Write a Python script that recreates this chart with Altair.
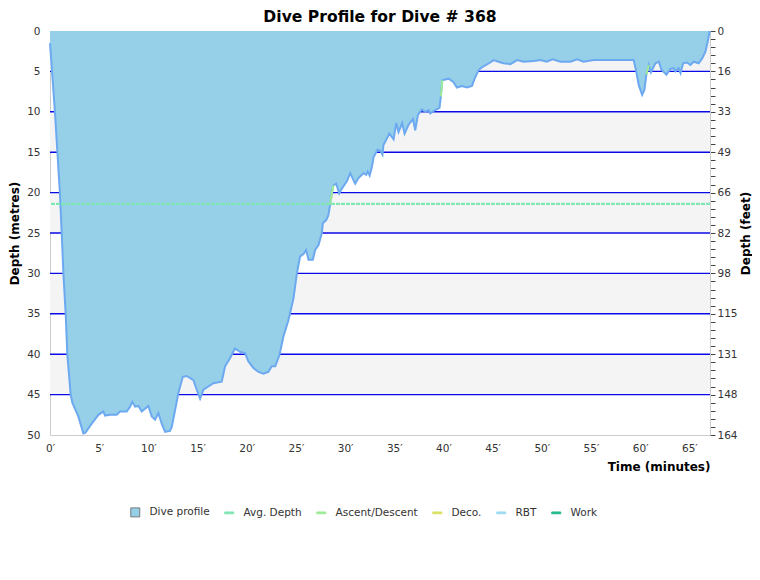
import altair as alt
import pandas as pd

# dive profile: elapsed time (minutes) and depth (metres)
TIME = [0, 0.5, 1.0, 1.19, 1.36, 1.6, 1.76, 2.1, 2.27, 2.88, 3.39, 3.6, 4.24, 4.92, 5.42, 5.6,
        6.1, 6.78, 7.12, 7.8, 8.14, 8.37, 8.65, 8.99, 9.33, 10.0, 10.34, 10.68, 11.02, 11.36,
        11.7, 12.2, 12.38, 12.72, 13.05, 13.5, 13.9, 14.58, 14.92, 15.26, 15.6, 16.1, 16.6,
        17.46, 17.8, 18.3, 18.8, 19.33, 19.84, 20.17, 20.68, 21.19, 21.7, 22.2, 22.55, 22.9,
        23.33, 23.73, 24.24, 24.75, 25.1, 25.43, 25.77, 26.04, 26.28, 26.72, 26.96, 27.3,
        27.64, 27.74, 28.08, 28.3, 28.48, 28.65, 28.82, 29.1, 29.4, 29.67, 30.18, 30.52,
        31.03, 31.36, 31.87, 32.15, 32.3, 32.5, 32.73, 32.9, 33.3, 33.57, 33.8, 33.9, 34.25,
        34.5, 34.93, 35.2, 35.43, 35.67, 35.8, 36.05, 36.45, 36.9, 37.13, 37.4, 37.8, 38.15,
        38.5, 38.66, 39.0, 39.6, 39.74, 39.88, 40.52, 41.0, 41.37, 41.88, 42.4, 42.9, 43.2,
        43.6, 43.9, 44.76, 45.1, 45.6, 46.1, 46.8, 47.5, 48.15, 49.2, 49.85, 50.5, 51.1, 51.9,
        52.9, 53.6, 54.25, 55.27, 56.63, 57.65, 58.7, 59.34, 59.6, 59.86, 60.2, 60.43, 60.63,
        60.87, 61.1, 61.55, 61.9, 62.16, 62.67, 63.07, 63.4, 63.58, 63.9, 64.1, 64.37, 64.77,
        65.1, 65.45, 65.95, 66.3, 66.63, 66.87, 67.07]
DEPTH = [1.5, 10.0, 19.9, 25.0, 30.0, 35.1, 40.0, 45.0, 46.0, 47.7, 49.8, 49.7, 48.6, 47.5,
         47.1, 47.6, 47.5, 47.5, 47.1, 47.1, 46.5, 45.9, 46.5, 46.4, 47.1, 46.4, 47.7, 48.1,
         47.3, 48.6, 49.6, 49.5, 49.0, 46.9, 44.8, 42.8, 42.7, 43.2, 44.4, 45.5, 44.4, 44.0,
         43.6, 43.4, 41.5, 40.5, 39.3, 39.7, 39.9, 40.9, 41.7, 42.2, 42.4, 42.2, 41.5, 41.5,
         40.1, 37.8, 35.8, 33.1, 30.0, 27.9, 27.6, 27.1, 28.3, 28.3, 27.1, 26.5, 25.0, 23.8,
         23.4, 22.8, 21.5, 20.1, 19.1, 18.9, 20.1, 19.5, 18.6, 17.6, 18.9, 18.2, 17.6, 17.8,
         17.4, 17.9, 16.8, 15.6, 14.7, 14.8, 15.3, 14.1, 13.3, 12.7, 13.4, 11.4, 12.5, 11.8,
         11.4, 12.7, 11.6, 10.9, 12.3, 10.4, 9.7, 10.0, 9.8, 10.2, 9.9, 9.5, 8.1, 6.1, 5.9,
         6.3, 7.0, 6.8, 7.0, 6.8, 5.8, 4.8, 4.5, 3.9, 3.6, 3.8, 4.0, 4.1, 3.6, 3.8, 3.7, 3.6,
         3.8, 3.5, 3.8, 3.8, 3.5, 3.8, 3.6, 3.6, 3.6, 3.6, 3.6, 5.0, 6.7, 7.9, 7.3, 5.4, 4.2,
         5.1, 4.0, 3.8, 4.8, 5.4, 4.7, 4.6, 5.0, 4.6, 5.2, 4.0, 3.9, 4.2, 3.8, 4.0, 3.4, 2.6,
         1.3, 0.0]

# ascent/descent stretches drawn in green on top of the profile
ASC_TIME = [28.48, 28.65, 28.82, 39.74, 39.88, 60.63, 60.87]
ASC_DEPTH = [21.5, 20.1, 19.1, 8.1, 6.1, 5.4, 4.2]
ASC_SEG = [1, 1, 1, 2, 2, 3, 3]

AVG_DEPTH = 21.4

BAND_TOP = [0, 10, 20, 30, 40]
BAND_BOTTOM = [5, 15, 25, 35, 45]
GRID_DEPTHS = [5, 10, 15, 20, 25, 30, 35, 40, 45]

X_TICKS = [0, 5, 10, 15, 20, 25, 30, 35, 40, 45, 50, 55, 60, 65]
DEPTH_TICKS = [0, 5, 10, 15, 20, 25, 30, 35, 40, 45, 50]
FEET_LABELS = ["0", "16", "33", "49", "66", "82", "98", "115", "131", "148", "164"]

SERIES = ["Dive profile", "Avg. Depth", "Ascent/Descent", "Deco.", "RBT", "Work"]
SERIES_COLORS = ["#96cfe8", "#7fe6b4", "#9deb98", "#d9e064", "#9fdaf3", "#25b98a"]
SERIES_STROKES = ["#7a7a7a", "#7fe6b4", "#9deb98", "#d9e064", "#9fdaf3", "#25b98a"]

LINE_SYMBOL = "M-1,-0.2H1V0.2H-1Z"

profile = pd.DataFrame({"time": TIME, "depth": DEPTH})
ascent = pd.DataFrame({"time": ASC_TIME, "depth": ASC_DEPTH, "seg": ASC_SEG})
bands = pd.DataFrame({"top": BAND_TOP, "bottom": BAND_BOTTOM})
grid = pd.DataFrame({"depth": GRID_DEPTHS})
legend_df = pd.DataFrame({"series": SERIES})

x_scale = alt.Scale(domain=[0, 67.1], nice=False, zero=False)
y_scale = alt.Scale(domain=[0, 50], reverse=True, nice=False)

x_enc = alt.X(
    "time:Q", scale=x_scale,
    axis=alt.Axis(
        values=X_TICKS, labelExpr="datum.value + '′'", ticks=False, grid=False,
        domainColor="#cccccc", labelPadding=8, labelFlush=False,
        title="Time (minutes)", titleAnchor="end", titlePadding=8,
    ),
)

band_layer = alt.Chart(bands).mark_rect(color="#f4f4f4").encode(
    y=alt.Y("top:Q", scale=y_scale, axis=alt.Axis(
        values=DEPTH_TICKS, ticks=False, grid=False, domain=False, labelPadding=10,
        title="Depth (metres)", titlePadding=5,
    )),
    y2="bottom:Q",
)

grid_layer = alt.Chart(grid).mark_rule(color="#0a0ae6", strokeWidth=1.4).encode(
    y=alt.Y("depth:Q", scale=y_scale),
)

area_layer = alt.Chart(profile).mark_area(color="#96cfe8", opacity=1).encode(
    x=x_enc,
    y=alt.Y("depth:Q", scale=y_scale),
)

line_layer = alt.Chart(profile).mark_line(color="#6ca9f0", strokeWidth=2).encode(
    x=alt.X("time:Q", scale=x_scale),
    y=alt.Y("depth:Q", scale=y_scale),
)

ascent_layer = alt.Chart(ascent).mark_line(color="#9deb98", strokeWidth=2).encode(
    x=alt.X("time:Q", scale=x_scale),
    y=alt.Y("depth:Q", scale=y_scale),
    detail="seg:N",
)

leg = dict(title=None, orient="none", direction="horizontal", legendX=80, legendY=476)
legend_layer = alt.Chart(legend_df).transform_filter("false").mark_point(
    filled=True, size=81, opacity=1
).encode(
    fill=alt.Fill("series:N", scale=alt.Scale(domain=SERIES, range=SERIES_COLORS),
                  legend=alt.Legend(**leg)),
    stroke=alt.Stroke("series:N", scale=alt.Scale(domain=SERIES, range=SERIES_STROKES),
                      legend=alt.Legend(**leg)),
    shape=alt.Shape("series:N",
                    scale=alt.Scale(domain=SERIES, range=["square"] + [LINE_SYMBOL] * 5),
                    legend=alt.Legend(**leg)),
)

left = alt.layer(band_layer, grid_layer, area_layer, line_layer, ascent_layer, legend_layer)

feet_expr = "datum.value % 5 == 0 ? " + str(FEET_LABELS) + "[datum.value / 5] : ''"
avg_layer = alt.Chart(pd.DataFrame({"depth": [AVG_DEPTH]})).mark_rule(
    color="#7fe6b4", strokeWidth=2.2, strokeDash=[4, 1]
).encode(
    y=alt.Y("depth:Q", scale=alt.Scale(domain=[0, 50], reverse=True, nice=False),
            axis=alt.Axis(
                orient="right", values=list(range(0, 51)), labelExpr=feet_expr,
                labelOverlap=False, tickSize=5, tickColor="#444444", domainColor="#cccccc",
                labelPadding=2, grid=False, title="Depth (feet)", titleAngle=270,
                titlePadding=15,
            )),
)

chart = alt.layer(left, avg_layer).resolve_scale(y="independent").properties(
    width=660,
    height=404,
    autosize=alt.AutoSizeParams(type="none"),
    padding={"left": 42, "top": 23, "right": 42, "bottom": 137},
    title=alt.Title("Dive Profile for Dive # 368", fontSize=15.6, fontWeight="bold",
                    anchor="middle", offset=0, color="#000000"),
).configure(
    font="DejaVu Sans",
).configure_axis(
    labelFontSize=10.5, labelColor="#333333", titleFontSize=12, titleFontWeight="bold",
    titleColor="#000000",
).configure_legend(
    labelFontSize=10.5, labelColor="#333333", symbolSize=81, symbolStrokeWidth=1,
    labelOffset=9, columnPadding=12, padding=0, symbolOffset=0,
).configure_view(
    stroke="#cccccc", strokeWidth=1,
)

chart.save("out.html", embed_options={"renderer": "svg", "actions": False})
